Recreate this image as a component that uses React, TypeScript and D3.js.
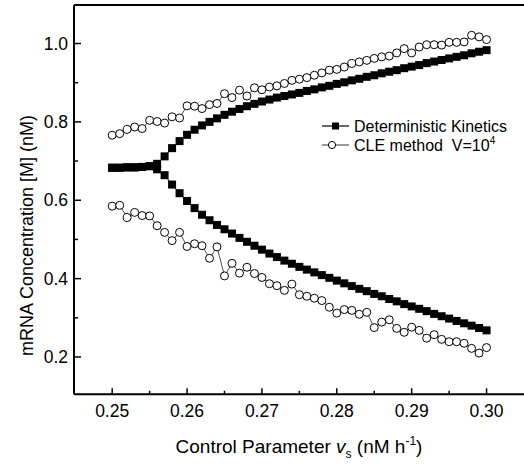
import React from 'react';
import * as d3 from 'd3';

const vs = [
  0.250, 0.251, 0.252, 0.253, 0.254, 0.255, 0.256, 0.257, 0.258, 0.259,
  0.260, 0.261, 0.262, 0.263, 0.264, 0.265, 0.266, 0.267, 0.268, 0.269,
  0.270, 0.271, 0.272, 0.273, 0.274, 0.275, 0.276, 0.277, 0.278, 0.279,
  0.280, 0.281, 0.282, 0.283, 0.284, 0.285, 0.286, 0.287, 0.288, 0.289,
  0.290, 0.291, 0.292, 0.293, 0.294, 0.295, 0.296, 0.297, 0.298, 0.299, 0.300,
];

const detUpper = [
  0.683, 0.683, 0.684, 0.684, 0.685, 0.687, 0.693, 0.712, 0.733, 0.751,
  0.767, 0.780, 0.791, 0.800, 0.809, 0.818, 0.826, 0.833, 0.840, 0.846,
  0.852, 0.857, 0.862, 0.866, 0.870, 0.874, 0.879, 0.883, 0.888, 0.892,
  0.897, 0.901, 0.906, 0.910, 0.915, 0.919, 0.924, 0.928, 0.932, 0.937,
  0.941, 0.945, 0.950, 0.954, 0.958, 0.962, 0.966, 0.970, 0.975, 0.979, 0.983,
];

const detLower = [
  0.683, 0.683, 0.684, 0.684, 0.685, 0.687, 0.679, 0.664, 0.640, 0.618,
  0.598, 0.580, 0.563, 0.549, 0.537, 0.526, 0.515, 0.504, 0.494, 0.484,
  0.474, 0.464, 0.455, 0.446, 0.438, 0.430, 0.423, 0.416, 0.409, 0.402,
  0.395, 0.388, 0.381, 0.374, 0.368, 0.361, 0.355, 0.348, 0.342, 0.335,
  0.329, 0.323, 0.317, 0.310, 0.304, 0.298, 0.292, 0.286, 0.280, 0.274, 0.268,
];

const cleUpper = [
  0.766, 0.770, 0.781, 0.787, 0.783, 0.804, 0.801, 0.797, 0.813, 0.810,
  0.841, 0.840, 0.834, 0.844, 0.847, 0.872, 0.862, 0.881, 0.866, 0.887,
  0.882, 0.889, 0.892, 0.898, 0.906, 0.909, 0.913, 0.919, 0.925, 0.932,
  0.934, 0.940, 0.949, 0.953, 0.957, 0.962, 0.966, 0.968, 0.976, 0.987,
  0.976, 0.991, 0.997, 0.997, 0.996, 1.003, 1.003, 1.004, 1.021, 1.017, 1.010,
];

const cleLower = [
  0.585, 0.587, 0.556, 0.569, 0.561, 0.560, 0.535, 0.518, 0.497, 0.518,
  0.482, 0.489, 0.484, 0.452, 0.481, 0.407, 0.439, 0.414, 0.429, 0.413,
  0.403, 0.387, 0.382, 0.370, 0.386, 0.359, 0.355, 0.350, 0.344, 0.327,
  0.312, 0.321, 0.319, 0.309, 0.314, 0.275, 0.289, 0.295, 0.273, 0.263,
  0.276, 0.268, 0.248, 0.257, 0.245, 0.239, 0.239, 0.235, 0.222, 0.210, 0.224,
];

const xTicks = [0.25, 0.26, 0.27, 0.28, 0.29, 0.30];
const xTickLabels = ['0.25', '0.26', '0.27', '0.28', '0.29', '0.30'];
const xMinorTicks = [0.255, 0.265, 0.275, 0.285, 0.295];
const yTicks = [0.2, 0.4, 0.6, 0.8, 1.0];
const yTickLabels = ['0.2', '0.4', '0.6', '0.8', '1.0'];
const yMinorTicks = [0.3, 0.5, 0.7, 0.9];

const FONT = '"Liberation Sans", Arial, Helvetica, sans-serif';

export default function App() {
  const W = 524;
  const H = 464;
  const left = 74;
  const bottom = 394.3;
  const top = 5;
  const x = d3.scaleLinear().domain([0.2449, 0.305]).range([left, 524]);
  const y = d3.scaleLinear().domain([0.1048, 1.0983]).range([bottom, top]);

  const mkLine = (arr: number[]) =>
    d3.line<number>().x((_, i) => x(vs[i])).y((d) => y(d))(arr) || '';

  const sq = 8;
  const r = 4;

  return (
    <svg width={W} height={H} style={{ position: 'absolute', left: 0, top: 0, background: '#fff' }}
      fontFamily={FONT}>
      <rect x={0} y={0} width={W} height={H} fill="#fff" />
      {/* frame */}
      <line x1={left} y1={top} x2={W} y2={top} stroke="#000" strokeWidth={2} />
      <line x1={left} y1={top} x2={left} y2={bottom} stroke="#000" strokeWidth={2} />
      <line x1={left} y1={bottom} x2={W} y2={bottom} stroke="#000" strokeWidth={2} />

      {/* x ticks */}
      {xTicks.map((t, i) => (
        <g key={'xt' + i}>
          <line x1={x(t)} x2={x(t)} y1={bottom} y2={bottom - 6} stroke="#000" strokeWidth={1.5} />
          <text x={x(t)} y={417} fontSize={17.5} textAnchor="middle" fill="#000">{xTickLabels[i]}</text>
        </g>
      ))}
      {xMinorTicks.map((t, i) => (
        <line key={'xm' + i} x1={x(t)} x2={x(t)} y1={bottom} y2={bottom - 3.5} stroke="#000" strokeWidth={1.5} />
      ))}

      {/* y ticks */}
      {yTicks.map((t, i) => (
        <g key={'yt' + i}>
          <line x1={left} x2={left + 7} y1={y(t)} y2={y(t)} stroke="#000" strokeWidth={1.5} />
          <text x={68} y={y(t) + 6} fontSize={17.5} textAnchor="end" fill="#000">{yTickLabels[i]}</text>
        </g>
      ))}
      {yMinorTicks.map((t, i) => (
        <line key={'ym' + i} x1={left} x2={left + 4} y1={y(t)} y2={y(t)} stroke="#000" strokeWidth={1.5} />
      ))}

      {/* axis titles */}
      <text x={299} y={453} fontSize={19} textAnchor="middle" fill="#000">
        Control Parameter <tspan fontStyle="italic">v</tspan>
        <tspan fontSize={12} dy={5}>s</tspan>
        <tspan dy={-5}> (nM h</tspan>
        <tspan fontSize={12} dy={-8}>-1</tspan>
        <tspan dy={8}>)</tspan>
      </text>
      <text transform="translate(33,235.5) rotate(-90)" fontSize={18} textAnchor="middle" fill="#000">
        mRNA Concentration [M] (nM)
      </text>

      {/* CLE series */}
      <path d={mkLine(cleUpper)} fill="none" stroke="#000" strokeWidth={0.7} />
      <path d={mkLine(cleLower)} fill="none" stroke="#000" strokeWidth={0.7} />
      {cleUpper.map((d, i) => (
        <circle key={'cu' + i} cx={x(vs[i])} cy={y(d)} r={r} fill="#fff" stroke="#000" strokeWidth={1} />
      ))}
      {cleLower.map((d, i) => (
        <circle key={'cl' + i} cx={x(vs[i])} cy={y(d)} r={r} fill="#fff" stroke="#000" strokeWidth={1} />
      ))}

      {/* deterministic series */}
      <path d={mkLine(detUpper)} fill="none" stroke="#000" strokeWidth={1} />
      <path d={mkLine(detLower)} fill="none" stroke="#000" strokeWidth={1} />
      {detUpper.map((d, i) => (
        <rect key={'du' + i} x={x(vs[i]) - sq / 2} y={y(d) - sq / 2} width={sq} height={sq} fill="#000" />
      ))}
      {detLower.map((d, i) => (
        <rect key={'dl' + i} x={x(vs[i]) - sq / 2} y={y(d) - sq / 2} width={sq} height={sq} fill="#000" />
      ))}

      {/* legend */}
      <line x1={322} x2={349} y1={126} y2={126} stroke="#000" strokeWidth={1.2} />
      <rect x={335.5 - 3.5} y={126 - 3.5} width={7} height={7} fill="#000" />
      <text x={354} y={132} fontSize={16} fill="#000">Deterministic Kinetics</text>
      <line x1={322} x2={349} y1={145} y2={145} stroke="#000" strokeWidth={0.8} />
      <circle cx={332} cy={145} r={3.6} fill="#fff" stroke="#000" strokeWidth={1} />
      <text x={354} y={151} fontSize={16} fill="#000" style={{ whiteSpace: 'pre' }}>
        {'CLE method  V=10'}
        <tspan fontSize={10} dy={-7}>4</tspan>
      </text>
    </svg>
  );
}
